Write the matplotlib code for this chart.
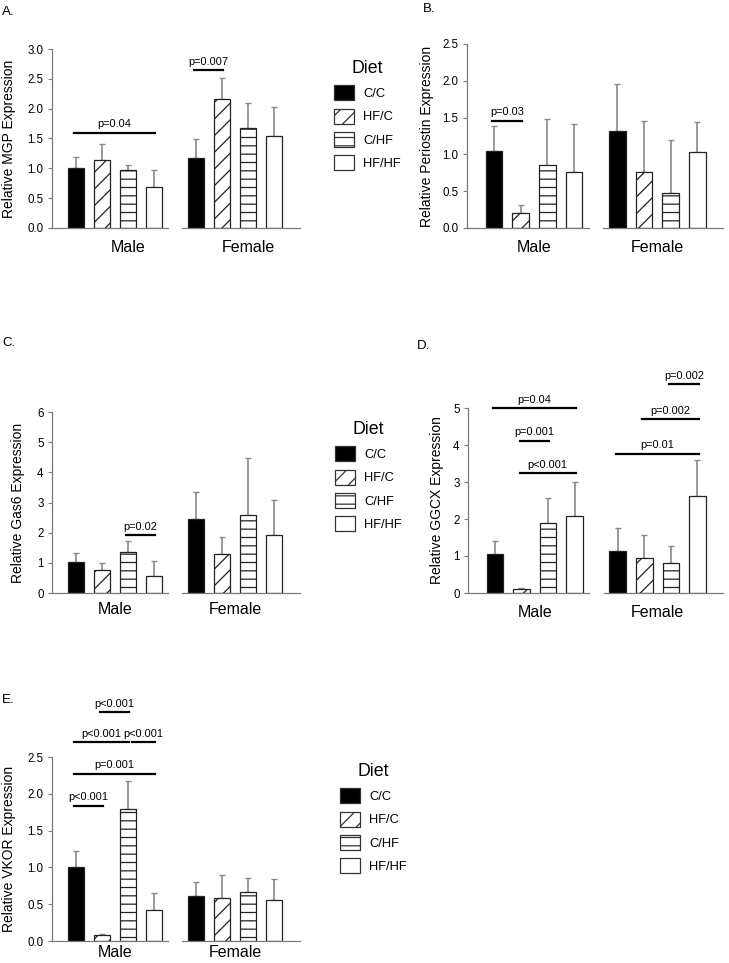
import matplotlib
matplotlib.use('Agg')
import matplotlib.pyplot as plt
from matplotlib.patches import Patch
import numpy as np

plt.rcParams['font.family'] = ['Liberation Sans', 'DejaVu Sans']
plt.rcParams['hatch.linewidth'] = 0.9

# 数据
diets = ['C/C', 'HF/C', 'C/HF', 'HF/HF']
groups = ['Male', 'Female']

mgp_vals = [1.01, 1.14, 0.98, 0.68, 1.175, 2.17, 1.68, 1.55]
mgp_err = [0.18, 0.26, 0.08, 0.30, 0.31, 0.34, 0.42, 0.48]

periostin_vals = [1.04, 0.20, 0.85, 0.76, 1.32, 0.765, 0.47, 1.03]
periostin_err = [0.34, 0.11, 0.635, 0.65, 0.63, 0.695, 0.725, 0.405]

gas6_vals = [1.03, 0.77, 1.35, 0.57, 2.44, 1.30, 2.60, 1.93]
gas6_err = [0.30, 0.22, 0.37, 0.49, 0.92, 0.56, 1.89, 1.16]

ggcx_vals = [1.045, 0.108, 1.90, 2.09, 1.135, 0.946, 0.81, 2.62]
ggcx_err = [0.36, 0.02, 0.68, 0.92, 0.635, 0.625, 0.46, 0.97]

vkor_vals = [1.01, 0.086, 1.80, 0.42, 0.61, 0.59, 0.67, 0.555]
vkor_err = [0.21, 0.015, 0.38, 0.235, 0.19, 0.31, 0.19, 0.29]

# 显著性标注: (起始柱, 结束柱, 高度, 文本)
mgp_sig = [(0, 3, 1.595, 'p=0.04'), (4, 5, 2.64, 'p=0.007')]
periostin_sig = [(0, 1, 1.46, 'p=0.03')]
gas6_sig = [(2, 3, 1.91, 'p=0.02')]
ggcx_sig = [(0, 3, 5.0, 'p=0.04'), (1, 2, 4.11, 'p=0.001'), (1, 3, 3.24, 'p<0.001'),
            (4, 7, 3.77, 'p=0.01'), (5, 7, 4.70, 'p=0.002'), (6, 7, 5.64, 'p=0.002')]
vkor_sig = [(0, 2, 2.70, 'p<0.001'), (2, 3, 2.70, 'p<0.001'), (1, 2, 3.11, 'p<0.001'),
            (0, 3, 2.27, 'p=0.001'), (0, 1, 1.84, 'p<0.001')]

W, H = 729, 963
fig = plt.figure(figsize=(W / 100, H / 100), dpi=100)

pos = np.array([0, 1, 2, 3, 4.62, 5.62, 6.62, 7.62])
fills = ['black', 'white', 'white', 'white']
hatches = [None, '//', '--', None]
grey = '#7a7a7a'


def add_panel(left, top, right, bottom, xlim, ylim, yticks, fmt, vals, errs, sig,
              ylabel, label_dx, group_dy, group_shift=0.0):
    ax = fig.add_axes([left / W, 1 - bottom / H, (right - left) / W, (bottom - top) / H])
    for k in range(8):
        ax.bar(pos[k], vals[k], width=0.62, color=fills[k % 4], edgecolor='#222222',
               linewidth=0.9, hatch=hatches[k % 4], zorder=2)
    ax.errorbar(pos, vals, yerr=[np.zeros(8), errs], fmt='none', ecolor='#8a8a8a',
                elinewidth=1.2, capsize=2.5, capthick=1.0, zorder=1)
    ax.set_xlim(*xlim)
    ax.set_ylim(*ylim)
    ax.set_yticks(yticks)
    ax.set_yticklabels([fmt % t for t in yticks])
    ax.tick_params(axis='y', direction='out', length=3, width=0.8, color=grey,
                   labelsize=8.3, pad=3)
    ax.set_xticks([])
    for s in ['top', 'right', 'bottom']:
        ax.spines[s].set_visible(False)
    ax.spines['left'].set_color(grey)
    ax.spines['left'].set_linewidth(0.9)
    # 断开的x轴
    ax.plot([xlim[0], 3.55], [0, 0], color=grey, lw=0.9, clip_on=False, zorder=3)
    ax.plot([4.1, xlim[1]], [0, 0], color=grey, lw=0.9, clip_on=False, zorder=3)
    ax.set_ylabel(ylabel, fontsize=10)
    width_px = right - left
    ax.yaxis.set_label_coords(-label_dx / width_px, 0.5)
    for g, name in enumerate(groups):
        cx = pos[4 * g:4 * g + 4].mean() + group_shift
        ax.annotate(name, xy=(cx, 0), xycoords=('data', 'axes fraction'),
                    xytext=(0, -group_dy), textcoords='offset points',
                    ha='center', va='center', fontsize=11.5)
    ends = [(i, j, y) for i, j, y, _ in sig]
    for i, j, y, txt in sig:
        x0 = pos[i] - 0.07
        if any(e[1] == i and abs(e[2] - y) < 1e-9 for e in ends):
            x0 = pos[i] + 0.15
        x1 = pos[j] + 0.05
        ax.plot([x0, x1], [y, y], color='black', lw=1.6, clip_on=False, zorder=4)
        ax.annotate(txt, xy=((x0 + x1) / 2, y), xytext=(0, 2.5), textcoords='offset points',
                    ha='center', va='bottom', fontsize=7.9, annotation_clip=False)
    return ax


add_panel(52, 49, 300, 228, (-0.92, 8.62), (0, 3), np.arange(0, 3.01, 0.5), '%.1f',
          mgp_vals, mgp_err, mgp_sig, 'Relative MGP Expression', 36, 13.7, group_shift=0.5)
add_panel(467, 44, 723, 228, (-1.01, 8.58), (0, 2.5), np.arange(0, 2.51, 0.5), '%.1f',
          periostin_vals, periostin_err, periostin_sig, 'Relative Periostin Expression', 33, 14.4)
add_panel(52, 412, 300, 593, (-0.92, 8.62), (0, 6), np.arange(0, 7, 1), '%d',
          gas6_vals, gas6_err, gas6_sig, 'Relative Gas6 Expression', 27, 12.2)
add_panel(468, 408, 723, 593, (-1.01, 8.58), (0, 5), np.arange(0, 6, 1), '%d',
          ggcx_vals, ggcx_err, ggcx_sig, 'Relative GGCX Expression', 24, 13.7)
add_panel(52, 757, 300, 941, (-0.92, 8.62), (0, 2.5), np.arange(0, 2.51, 0.5), '%.1f',
          vkor_vals, vkor_err, vkor_sig, 'Relative VKOR Expression', 36, 8.6)

# 面板标签
for txt, x, y in [('A.', 2, 12), ('B.', 423, 9), ('C.', 2, 343), ('D.', 417, 346), ('E.', 2, 700)]:
    fig.text(x / W, 1 - y / H, txt, fontsize=9.5, ha='left', va='center')

# 图例
handles = [Patch(facecolor=fills[k], edgecolor='#333333', linewidth=0.9, hatch=hatches[k])
           for k in range(4)]
for x, y in [(334, 60), (335, 421), (340, 763)]:
    fig.legend(handles, diets, title='Diet', loc='upper left',
               bbox_to_anchor=(x / W, 1 - y / H), frameon=False, fontsize=9.3,
               title_fontsize=12.8, handlelength=1.55, handleheight=1.4,
               labelspacing=0.65, handletextpad=0.7, borderpad=0, borderaxespad=0)

plt.savefig('out.png', dpi=100)
